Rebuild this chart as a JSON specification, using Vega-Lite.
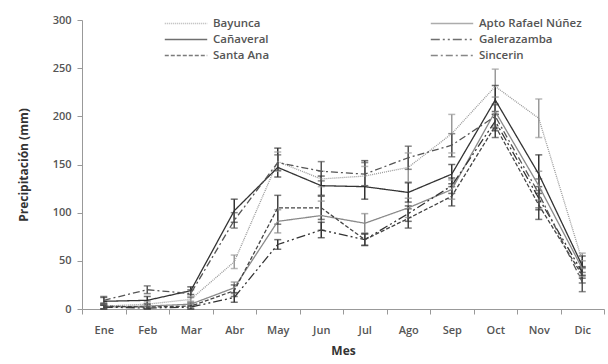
{
  "$schema": "https://vega.github.io/schema/vega-lite/v6.json",
  "width": 522,
  "height": 289,
  "autosize": "none",
  "padding": {"left": 82, "top": 20, "right": 4, "bottom": 55},
  "background": "white",
  "config": {
    "view": {"stroke": null},
    "font": "Open Sans",
    "axis": {"labelFont": "Open Sans", "titleFont": "Open Sans", "labelColor": "#555", "titleColor": "#333", "domainColor": "#999", "tickColor": "#999", "grid": false, "labelFontSize": 11, "labelFontWeight": 600, "titleFontSize": 12, "titleFontWeight": "bold"},
    "legend": {"labelFont": "Open Sans", "labelFontSize": 11.5, "labelFontWeight": 600, "labelColor": "#555"}
  },
  "data": {"values": [
    {"mes": "Ene", "serie": "Bayunca", "v": 3, "lo": 0, "hi": 6},
    {"mes": "Feb", "serie": "Bayunca", "v": 5, "lo": 2, "hi": 8},
    {"mes": "Mar", "serie": "Bayunca", "v": 10, "lo": 7, "hi": 13},
    {"mes": "Abr", "serie": "Bayunca", "v": 49, "lo": 42, "hi": 56},
    {"mes": "May", "serie": "Bayunca", "v": 153, "lo": 143, "hi": 163},
    {"mes": "Jun", "serie": "Bayunca", "v": 135, "lo": 127, "hi": 143},
    {"mes": "Jul", "serie": "Bayunca", "v": 138, "lo": 128, "hi": 148},
    {"mes": "Ago", "serie": "Bayunca", "v": 147, "lo": 132, "hi": 162},
    {"mes": "Sep", "serie": "Bayunca", "v": 182, "lo": 162, "hi": 202},
    {"mes": "Oct", "serie": "Bayunca", "v": 231, "lo": 213, "hi": 249},
    {"mes": "Nov", "serie": "Bayunca", "v": 198, "lo": 178, "hi": 218},
    {"mes": "Dic", "serie": "Bayunca", "v": 50, "lo": 42, "hi": 58},

    {"mes": "Ene", "serie": "Apto Rafael Núñez", "v": 2, "lo": 0, "hi": 5},
    {"mes": "Feb", "serie": "Apto Rafael Núñez", "v": 3, "lo": 0, "hi": 6},
    {"mes": "Mar", "serie": "Apto Rafael Núñez", "v": 5, "lo": 2, "hi": 8},
    {"mes": "Abr", "serie": "Apto Rafael Núñez", "v": 22, "lo": 16, "hi": 28},
    {"mes": "May", "serie": "Apto Rafael Núñez", "v": 91, "lo": 79, "hi": 103},
    {"mes": "Jun", "serie": "Apto Rafael Núñez", "v": 97, "lo": 82, "hi": 112},
    {"mes": "Jul", "serie": "Apto Rafael Núñez", "v": 89, "lo": 79, "hi": 99},
    {"mes": "Ago", "serie": "Apto Rafael Núñez", "v": 105, "lo": 95, "hi": 115},
    {"mes": "Sep", "serie": "Apto Rafael Núñez", "v": 124, "lo": 114, "hi": 134},
    {"mes": "Oct", "serie": "Apto Rafael Núñez", "v": 205, "lo": 190, "hi": 220},
    {"mes": "Nov", "serie": "Apto Rafael Núñez", "v": 128, "lo": 113, "hi": 143},
    {"mes": "Dic", "serie": "Apto Rafael Núñez", "v": 42, "lo": 34, "hi": 50},

    {"mes": "Ene", "serie": "Cañaveral", "v": 8, "lo": 4, "hi": 12},
    {"mes": "Feb", "serie": "Cañaveral", "v": 9, "lo": 5, "hi": 13},
    {"mes": "Mar", "serie": "Cañaveral", "v": 19, "lo": 15, "hi": 23},
    {"mes": "Abr", "serie": "Cañaveral", "v": 102, "lo": 90, "hi": 114},
    {"mes": "May", "serie": "Cañaveral", "v": 147, "lo": 137, "hi": 167},
    {"mes": "Jun", "serie": "Cañaveral", "v": 128, "lo": 118, "hi": 138},
    {"mes": "Jul", "serie": "Cañaveral", "v": 127, "lo": 114, "hi": 154},
    {"mes": "Ago", "serie": "Cañaveral", "v": 121, "lo": 111, "hi": 131},
    {"mes": "Sep", "serie": "Cañaveral", "v": 140, "lo": 130, "hi": 150},
    {"mes": "Oct", "serie": "Cañaveral", "v": 217, "lo": 202, "hi": 232},
    {"mes": "Nov", "serie": "Cañaveral", "v": 140, "lo": 120, "hi": 160},
    {"mes": "Dic", "serie": "Cañaveral", "v": 45, "lo": 35, "hi": 55},

    {"mes": "Ene", "serie": "Galerazamba", "v": 2, "lo": 0, "hi": 4},
    {"mes": "Feb", "serie": "Galerazamba", "v": 1, "lo": 0, "hi": 3},
    {"mes": "Mar", "serie": "Galerazamba", "v": 2, "lo": 0, "hi": 4},
    {"mes": "Abr", "serie": "Galerazamba", "v": 12, "lo": 7, "hi": 17},
    {"mes": "May", "serie": "Galerazamba", "v": 67, "lo": 62, "hi": 72},
    {"mes": "Jun", "serie": "Galerazamba", "v": 82, "lo": 74, "hi": 90},
    {"mes": "Jul", "serie": "Galerazamba", "v": 72, "lo": 66, "hi": 78},
    {"mes": "Ago", "serie": "Galerazamba", "v": 99, "lo": 91, "hi": 107},
    {"mes": "Sep", "serie": "Galerazamba", "v": 128, "lo": 120, "hi": 136},
    {"mes": "Oct", "serie": "Galerazamba", "v": 195, "lo": 185, "hi": 205},
    {"mes": "Nov", "serie": "Galerazamba", "v": 115, "lo": 103, "hi": 127},
    {"mes": "Dic", "serie": "Galerazamba", "v": 38, "lo": 32, "hi": 44},

    {"mes": "Ene", "serie": "Santa Ana", "v": 3, "lo": 0, "hi": 6},
    {"mes": "Feb", "serie": "Santa Ana", "v": 2, "lo": 0, "hi": 5},
    {"mes": "Mar", "serie": "Santa Ana", "v": 3, "lo": 0, "hi": 6},
    {"mes": "Abr", "serie": "Santa Ana", "v": 19, "lo": 13, "hi": 25},
    {"mes": "May", "serie": "Santa Ana", "v": 105, "lo": 88, "hi": 118},
    {"mes": "Jun", "serie": "Santa Ana", "v": 105, "lo": 93, "hi": 117},
    {"mes": "Jul", "serie": "Santa Ana", "v": 72, "lo": 66, "hi": 78},
    {"mes": "Ago", "serie": "Santa Ana", "v": 94, "lo": 84, "hi": 104},
    {"mes": "Sep", "serie": "Santa Ana", "v": 117, "lo": 107, "hi": 127},
    {"mes": "Oct", "serie": "Santa Ana", "v": 190, "lo": 178, "hi": 202},
    {"mes": "Nov", "serie": "Santa Ana", "v": 108, "lo": 93, "hi": 123},
    {"mes": "Dic", "serie": "Santa Ana", "v": 35, "lo": 27, "hi": 43},

    {"mes": "Ene", "serie": "Sincerin", "v": 9, "lo": 5, "hi": 13},
    {"mes": "Feb", "serie": "Sincerin", "v": 20, "lo": 16, "hi": 24},
    {"mes": "Mar", "serie": "Sincerin", "v": 16, "lo": 12, "hi": 20},
    {"mes": "Abr", "serie": "Sincerin", "v": 92, "lo": 84, "hi": 100},
    {"mes": "May", "serie": "Sincerin", "v": 152, "lo": 144, "hi": 160},
    {"mes": "Jun", "serie": "Sincerin", "v": 143, "lo": 133, "hi": 153},
    {"mes": "Jul", "serie": "Sincerin", "v": 140, "lo": 128, "hi": 152},
    {"mes": "Ago", "serie": "Sincerin", "v": 157, "lo": 145, "hi": 169},
    {"mes": "Sep", "serie": "Sincerin", "v": 170, "lo": 158, "hi": 182},
    {"mes": "Oct", "serie": "Sincerin", "v": 200, "lo": 188, "hi": 212},
    {"mes": "Nov", "serie": "Sincerin", "v": 120, "lo": 105, "hi": 135},
    {"mes": "Dic", "serie": "Sincerin", "v": 28, "lo": 18, "hi": 38}
  ]},
  "encoding": {
    "x": {"field": "mes", "type": "nominal", "sort": ["Ene","Feb","Mar","Abr","May","Jun","Jul","Ago","Sep","Oct","Nov","Dic"],
      "scale": {"type": "band", "paddingInner": 0, "paddingOuter": 0},
      "bandPosition": 0.5,
      "axis": {"title": "Mes", "labelAngle": 0, "tickBand": "extent", "labelPadding": 10, "titleY": 36, "tickSize": 5}}
  },
  "layer": [
    {
      "mark": {"type": "rule", "strokeWidth": 1.5},
      "encoding": {
        "y": {"field": "lo", "type": "quantitative"},
        "y2": {"field": "hi"},
        "color": {"field": "serie", "type": "nominal"}
      }
    },
    {
      "mark": {"type": "tick", "orient": "horizontal", "size": 7, "thickness": 1.5},
      "encoding": {
        "y": {"field": "lo", "type": "quantitative"},
        "color": {"field": "serie", "type": "nominal"}
      }
    },
    {
      "mark": {"type": "tick", "orient": "horizontal", "size": 7, "thickness": 1.5},
      "encoding": {
        "y": {"field": "hi", "type": "quantitative"},
        "color": {"field": "serie", "type": "nominal"}
      }
    },
    {
      "mark": {"type": "line"},
      "encoding": {
        "y": {"field": "v", "type": "quantitative", "scale": {"domain": [0, 300]},
          "axis": {"title": "Precipitación (mm)", "values": [0,50,100,150,200,250,300], "titlePadding": 22, "labelPadding": 6, "tickSize": 5}},
        "color": {"field": "serie", "type": "nominal",
          "scale": {"domain": ["Bayunca","Apto Rafael Núñez","Cañaveral","Galerazamba","Santa Ana","Sincerin"], "range": ["#9a9a9a","#8a8a8a","#333333","#333333","#444444","#555555"]},
          "legend": {"title": null, "orient": "none", "legendX": 82, "legendY": -3, "columns": 2, "direction": "horizontal", "columnPadding": 160, "rowPadding": 3, "clipHeight": 13, "symbolType": "stroke", "symbolSize": 1800, "labelOffset": 5}},
        "strokeDash": {"field": "serie", "type": "nominal",
          "scale": {"domain": ["Bayunca","Apto Rafael Núñez","Cañaveral","Galerazamba","Santa Ana","Sincerin"], "range": [[1,1],[1,0],[1,0],[9,3,2,3,2,3],[4,2],[7,3,2,3]]}},
        "strokeWidth": {"field": "serie", "type": "nominal",
          "scale": {"domain": ["Bayunca","Apto Rafael Núñez","Cañaveral","Galerazamba","Santa Ana","Sincerin"], "range": [1.3,1.3,2.2,2,1.6,1.6]}}
      }
    }
  ]
}
